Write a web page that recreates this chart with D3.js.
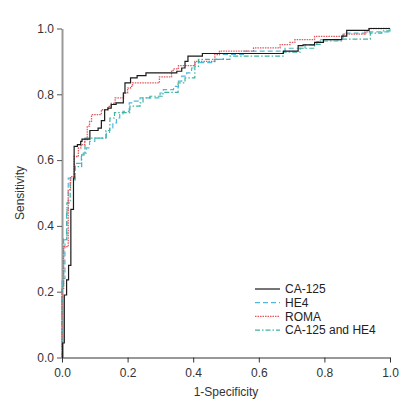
<!DOCTYPE html>
<html><head><meta charset="utf-8">
<script src="https://cdn.jsdelivr.net/npm/d3@7/dist/d3.min.js"></script>
<style>body{margin:0;background:#fff;} text{font-family:"Liberation Sans",Arial,sans-serif;}</style>
</head><body>
<svg id="c" width="413" height="403"></svg>
<script>
// ROC vertices (1-specificity, sensitivity) per series
const seriesNames = ["CA-125", "HE4", "ROMA", "CA-125 and HE4"];
const ca125FPR = [0,0.002,0.007,0.014,0.02,0.027,0.035,0.037,0.047,0.057,0.061,0.085,0.11,0.12,0.13,0.13,0.14,0.15,0.165,0.187,0.192,0.209,0.229,0.256,0.35,0.365,0.375,0.384,0.428,0.675,0.72,0.735,0.77,0.797,0.853,0.868,0.936,1];
const ca125TPR = [0,0.044,0.19,0.236,0.28,0.45,0.545,0.642,0.647,0.657,0.664,0.69,0.697,0.72,0.728,0.753,0.758,0.769,0.774,0.804,0.835,0.85,0.857,0.865,0.87,0.88,0.9,0.916,0.924,0.931,0.948,0.95,0.958,0.966,0.977,0.994,1,1];
const he4FPR = [0,0,0.009,0.014,0.019,0.04,0.059,0.065,0.074,0.084,0.1,0.135,0.145,0.155,0.166,0.176,0.186,0.205,0.217,0.238,0.299,0.309,0.34,0.355,0.365,0.38,0.395,0.405,0.466,0.492,0.553,0.68,0.741,0.777,0.787,0.857,0.939,0.954,1];
const he4TPR = [0,0.24,0.358,0.449,0.545,0.59,0.611,0.621,0.637,0.657,0.667,0.682,0.698,0.713,0.728,0.738,0.748,0.774,0.779,0.789,0.804,0.814,0.824,0.84,0.855,0.865,0.88,0.896,0.906,0.921,0.931,0.94,0.95,0.96,0.966,0.986,0.99,0.99,1];
const romaFPR = [0,0,0.005,0.019,0.026,0.037,0.05,0.058,0.069,0.077,0.084,0.09,0.12,0.14,0.15,0.16,0.162,0.188,0.2,0.209,0.215,0.297,0.334,0.339,0.355,0.405,0.466,0.48,0.584,0.665,0.695,0.71,0.77,0.857,0.924,0.937,1];
const romaTPR = [0,0.21,0.337,0.51,0.55,0.611,0.637,0.647,0.662,0.703,0.718,0.738,0.753,0.763,0.772,0.774,0.789,0.804,0.819,0.824,0.835,0.853,0.87,0.877,0.887,0.9,0.921,0.931,0.941,0.951,0.958,0.966,0.976,0.983,0.99,1,1];
const comboFPR = [0,0,0.005,0.015,0.025,0.04,0.06,0.07,0.134,0.146,0.16,0.207,0.238,0.247,0.268,0.308,0.354,0.375,0.405,0.416,0.512,0.674,0.726,0.77,0.787,0.854,0.94,0.975,1];
const comboTPR = [0,0.22,0.36,0.47,0.54,0.58,0.616,0.667,0.69,0.728,0.744,0.764,0.774,0.789,0.794,0.806,0.835,0.85,0.885,0.906,0.916,0.928,0.94,0.952,0.962,0.968,0.986,0.993,1];
const xTicks = [0,0.2,0.4,0.6,0.8,1.0];
const yTicks = [0,0.2,0.4,0.6,0.8,1.0];

const svg = d3.select("#c");
const x = d3.scaleLinear().domain([0,1]).range([62,390]);
const y = d3.scaleLinear().domain([0,1]).range([357.5,28.5]);

const styles = [
  {color:"#1a1a1a", dash:null, w:1.2},
  {color:"#4db8dc", dash:"5,3", w:1.2},
  {color:"#e0595e", dash:"1.5,1", w:1.3},
  {color:"#3fb49a", dash:"5,2,1.5,2", w:1.2}
];
const data = [
  d3.zip(ca125FPR, ca125TPR),
  d3.zip(he4FPR, he4TPR),
  d3.zip(romaFPR, romaTPR),
  d3.zip(comboFPR, comboTPR)
];

// axes
const xa = svg.append("g").attr("transform","translate(0,357.5)")
  .call(d3.axisBottom(x).tickValues(xTicks).tickFormat(d3.format(".1f")).tickSize(5).tickSizeOuter(0));
xa.select(".domain").attr("stroke","#333");
xa.selectAll(".tick line").attr("stroke","#333");
xa.selectAll("text").attr("font-size",12).attr("fill","#333").attr("dy","0.95em")
  .style("font-family","'Liberation Sans',Arial,sans-serif");

const ya = svg.append("g").attr("transform","translate(62,0)")
  .call(d3.axisLeft(y).tickValues(yTicks).tickFormat(d3.format(".1f")).tickSize(5).tickSizeOuter(0));
ya.select(".domain").attr("stroke","#999").attr("stroke-width",2);
ya.selectAll(".tick line").attr("stroke","#555");
ya.selectAll("text").attr("font-size",12).attr("fill","#333").attr("x",-8)
  .style("font-family","'Liberation Sans',Arial,sans-serif");

const line = d3.line().x(d=>x(d[0])).y(d=>y(d[1])).curve(d3.curveStepAfter);
const order = [1,3,2,0];
order.forEach(i=>{
  svg.append("path").datum(data[i]).attr("d",line)
    .attr("fill","none").attr("stroke",styles[i].color)
    .attr("stroke-width",styles[i].w)
    .attr("stroke-dasharray",styles[i].dash);
});

// titles
svg.append("text").attr("x",226).attr("y",396).attr("text-anchor","middle")
  .attr("font-size",12).attr("fill","#333").text("1-Specificity");
svg.append("text").attr("transform","translate(24,193) rotate(-90)").attr("text-anchor","middle")
  .attr("font-size",12).attr("fill","#333").text("Sensitivity");

// legend
const lg = svg.append("g");
seriesNames.forEach((n,i)=>{
  const yy = 289 + i*13.7;
  lg.append("line").attr("x1",255).attr("x2",280).attr("y1",yy).attr("y2",yy)
    .attr("stroke",styles[i].color).attr("stroke-width",styles[i].w)
    .attr("stroke-dasharray",styles[i].dash);
  lg.append("text").attr("x",285).attr("y",yy).attr("dy","0.35em")
    .attr("font-size",12).attr("fill","#222").text(n);
});
</script>
</body></html>
